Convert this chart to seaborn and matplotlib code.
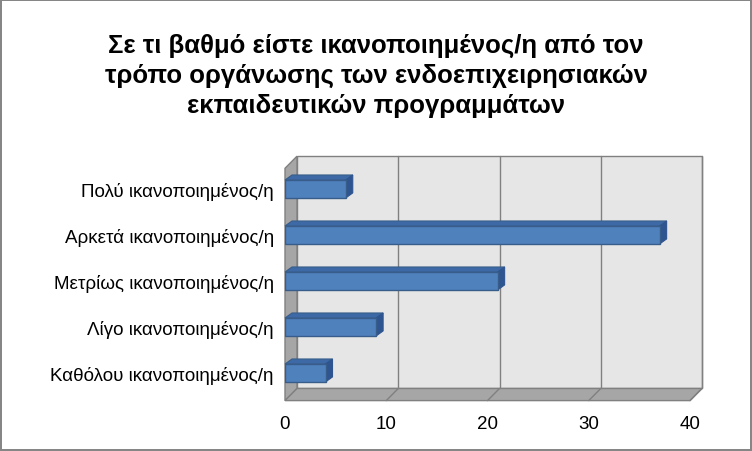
import matplotlib
matplotlib.use("Agg")
import matplotlib.pyplot as plt
from matplotlib.patches import Polygon, Rectangle
import seaborn as sns
import pandas as pd

# data
categories = [
    "Πολύ ικανοποιημένος/η",
    "Αρκετά ικανοποιημένος/η",
    "Μετρίως ικανοποιημένος/η",
    "Λίγο ικανοποιημένος/η",
    "Καθόλου ικανοποιημένος/η",
]
counts = [6, 37, 21, 9, 4]
x_ticks = [0, 10, 20, 30, 40]
title = ("Σε τι βαθμό είστε ικανοποιημένος/η από τον\n"
         "τρόπο οργάνωσης των ενδοεπιχειρησιακών\n"
         "εκπαιδευτικών προγραμμάτων")

df = pd.DataFrame({"category": categories, "count": counts})

sns.set_style("white")
plt.rcParams["font.family"] = ["Liberation Sans", "DejaVu Sans"]

W, H = 752, 452
fig = plt.figure(figsize=(W / 100, H / 100), dpi=100)
fig.patch.set_facecolor("white")
fig.patch.set_edgecolor("#868686")
fig.patch.set_linewidth(1.5)

# front plane of the plot area, in pixels
left_px, right_px, bottom_px, top_px = 285, 690, 397, 167
ax = fig.add_axes([left_px / W, 1 - bottom_px / H,
                   (right_px - left_px) / W, (bottom_px - top_px) / H])
xmin, xmax = 0, 40
ytop, ybot = -0.45, 4.6
ax.set_xlim(xmin, xmax)
ax.set_ylim(ybot, ytop)
ax.set_facecolor("none")

# depth offset of the 3D look (pixels -> data units)
px_x = (right_px - left_px) / (xmax - xmin)
px_y = (bottom_px - top_px) / (ybot - ytop)
dx, dy = 12 / px_x, 12 / px_y

wall = "#e6e6e6"
side = "#a6a6a6"
grid = "#808080"

# back wall
ax.add_patch(Rectangle((xmin + dx, ytop - dy), xmax - xmin, ybot - ytop,
                       facecolor=wall, edgecolor=grid, lw=1, zorder=0, clip_on=False))
# left wall
ax.add_patch(Polygon([(xmin, ytop), (xmin + dx, ytop - dy), (xmin + dx, ybot - dy), (xmin, ybot)],
                     facecolor=side, edgecolor=grid, lw=1, zorder=0, clip_on=False))
# floor
ax.add_patch(Polygon([(xmin, ybot), (xmin + dx, ybot - dy), (xmax + dx, ybot - dy), (xmax, ybot)],
                     facecolor=side, edgecolor=grid, lw=1, zorder=0, clip_on=False))
for t in x_ticks[1:]:
    ax.plot([t + dx, t + dx], [ytop - dy, ybot - dy], color=grid, lw=1, zorder=0.5, clip_on=False)
    ax.plot([t, t + dx], [ybot, ybot - dy], color=grid, lw=1, zorder=0.5, clip_on=False)

bar_w = 0.39
n_before = len(ax.patches)
sns.barplot(data=df, x="count", y="category", orient="h", color="#4f81bd",
            width=bar_w, edgecolor="#385d8a", linewidth=1, saturation=1, ax=ax, zorder=3)
bars = list(ax.patches)[n_before:]

# depth faces of the bars
bdx, bdy = 7 / px_x, 5 / px_y
for p in bars:
    x0, y0 = p.get_x(), p.get_y()
    x1, y1 = x0 + p.get_width(), y0 + p.get_height()
    ax.add_patch(Polygon([(x0, y0), (x0 + bdx, y0 - bdy), (x1 + bdx, y0 - bdy), (x1, y0)],
                         facecolor="#3d6aa6", edgecolor="#385d8a", lw=0.8, zorder=2.9, clip_on=False))
    ax.add_patch(Polygon([(x1, y0), (x1 + bdx, y0 - bdy), (x1 + bdx, y1 - bdy), (x1, y1)],
                         facecolor="#2f5591", edgecolor="#2f5591", lw=0.8, zorder=2.9, clip_on=False))

ax.set_xticks(x_ticks)
ax.set_xlabel("")
ax.set_ylabel("")
ax.tick_params(axis="both", length=0, labelsize=13.5, colors="black")
ax.tick_params(axis="x", pad=14)
ax.tick_params(axis="y", pad=8)
for s in ax.spines.values():
    s.set_visible(False)

fig.text(0.5, 1 - 76 / H, title, ha="center", va="center", fontsize=18.5,
         fontweight="bold", linespacing=1.3, color="black")

fig.savefig("out.png", dpi=100)
